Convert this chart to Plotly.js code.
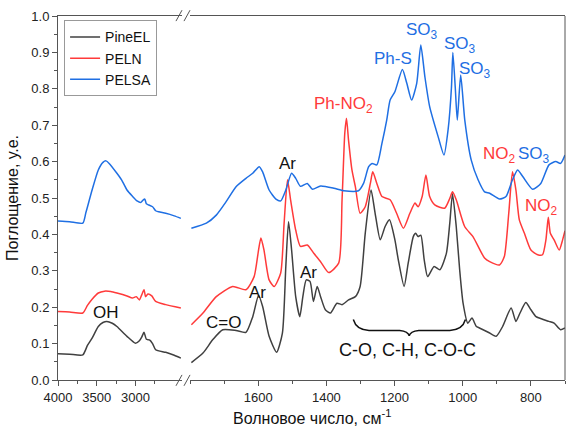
<!DOCTYPE html>
<html><head><meta charset="utf-8">
<script src="https://cdn.plot.ly/plotly-3.0.1.min.js"></script>
<style>html,body{margin:0;padding:0;background:#fff}#chart{width:566px;height:430px}</style>
</head><body><div id="chart"></div>
<script>
// ---- Series names / colours ----
const seriesNames = ['PineEL', 'PELN', 'PELSA'];
const seriesColors = ['#404040', '#ff3a3a', '#1f6fe3'];

// ---- High-wavenumber segment (4000–2400 cm-1) ----
const pineElHighWn = [4000, 3850, 3680, 3620, 3560, 3480, 3420, 3370, 3300, 3240, 3110, 3000, 2950, 2920, 2890, 2860, 2820, 2780, 2740, 2610, 2500, 2415];
const pineElHigh   = [0.072, 0.071, 0.069, 0.095, 0.115, 0.147, 0.158, 0.161, 0.156, 0.147, 0.120, 0.101, 0.108, 0.118, 0.131, 0.112, 0.110, 0.100, 0.083, 0.076, 0.068, 0.060];

const pelnHighWn = [4000, 3850, 3680, 3620, 3560, 3480, 3400, 3320, 3240, 3110, 3040, 2990, 2950, 2920, 2890, 2870, 2840, 2790, 2740, 2610, 2415];
const pelnHigh   = [0.188, 0.187, 0.184, 0.205, 0.222, 0.239, 0.244, 0.243, 0.239, 0.231, 0.225, 0.229, 0.220, 0.234, 0.248, 0.229, 0.236, 0.231, 0.216, 0.207, 0.198];

const pelsaHighWn = [4000, 3850, 3680, 3640, 3560, 3480, 3420, 3380, 3340, 3240, 3180, 3110, 3040, 2980, 2930, 2900, 2880, 2860, 2840, 2780, 2740, 2700, 2610, 2500, 2415];
const pelsaHigh   = [0.437, 0.435, 0.431, 0.460, 0.522, 0.577, 0.598, 0.602, 0.595, 0.568, 0.550, 0.522, 0.505, 0.492, 0.488, 0.495, 0.497, 0.484, 0.482, 0.476, 0.465, 0.462, 0.458, 0.451, 0.444];

// ---- Fingerprint segment (1800–700 cm-1) ----
const pineElLowWn = [1796, 1762, 1733, 1704, 1665, 1636, 1616, 1599, 1587, 1568, 1546, 1529, 1519, 1511, 1502, 1490, 1478, 1469, 1459, 1448, 1438, 1427, 1417, 1403, 1388, 1369, 1354, 1335, 1315, 1301, 1286, 1269, 1257, 1242, 1228, 1215, 1199, 1189, 1172, 1160, 1145, 1138, 1131, 1123, 1113, 1103, 1084, 1067, 1048, 1038, 1030, 1019, 1009, 999, 985, 973, 960, 951, 921, 902, 883, 858, 844, 832, 815, 800, 785, 766, 747, 732, 713, 700];
const pineElLow   = [0.048, 0.074, 0.111, 0.138, 0.136, 0.131, 0.174, 0.232, 0.202, 0.120, 0.076, 0.129, 0.312, 0.435, 0.357, 0.229, 0.174, 0.229, 0.275, 0.271, 0.216, 0.257, 0.229, 0.193, 0.184, 0.211, 0.207, 0.220, 0.229, 0.257, 0.403, 0.522, 0.458, 0.385, 0.421, 0.440, 0.385, 0.330, 0.257, 0.321, 0.394, 0.403, 0.394, 0.398, 0.330, 0.284, 0.312, 0.303, 0.348, 0.431, 0.512, 0.421, 0.303, 0.211, 0.156, 0.170, 0.147, 0.143, 0.129, 0.120, 0.147, 0.198, 0.161, 0.184, 0.213, 0.193, 0.174, 0.167, 0.161, 0.156, 0.138, 0.143];

const pelnLowWn = [1796, 1762, 1723, 1675, 1636, 1612, 1599, 1592, 1583, 1568, 1553, 1534, 1524, 1514, 1505, 1490, 1476, 1456, 1437, 1417, 1393, 1364, 1354, 1346, 1341, 1335, 1325, 1315, 1301, 1286, 1271, 1264, 1252, 1237, 1213, 1194, 1174, 1155, 1140, 1131, 1119, 1108, 1097, 1082, 1053, 1038, 1030, 1019, 994, 970, 936, 921, 892, 878, 865, 854, 844, 834, 819, 800, 780, 766, 756, 749, 743, 732, 717, 707, 700];
const pelnLow   = [0.152, 0.184, 0.229, 0.257, 0.248, 0.284, 0.357, 0.390, 0.357, 0.275, 0.257, 0.294, 0.431, 0.550, 0.495, 0.412, 0.367, 0.371, 0.348, 0.325, 0.295, 0.321, 0.495, 0.678, 0.719, 0.659, 0.577, 0.531, 0.458, 0.476, 0.540, 0.572, 0.540, 0.504, 0.495, 0.458, 0.417, 0.458, 0.486, 0.476, 0.504, 0.563, 0.504, 0.481, 0.472, 0.499, 0.517, 0.495, 0.421, 0.394, 0.335, 0.325, 0.316, 0.339, 0.458, 0.572, 0.522, 0.440, 0.403, 0.357, 0.344, 0.344, 0.385, 0.447, 0.403, 0.385, 0.357, 0.385, 0.410];

const pelsaLowWn = [1796, 1752, 1723, 1694, 1665, 1636, 1616, 1597, 1587, 1568, 1548, 1534, 1519, 1502, 1490, 1476, 1456, 1441, 1417, 1378, 1349, 1306, 1291, 1276, 1266, 1252, 1237, 1223, 1213, 1199, 1177, 1164, 1150, 1135, 1123, 1111, 1097, 1072, 1055, 1043, 1033, 1029, 1022, 1016, 1006, 994, 975, 955, 936, 921, 892, 873, 854, 839, 824, 795, 771, 747, 727, 713, 700];
const pelsaLow   = [0.417, 0.431, 0.453, 0.490, 0.531, 0.554, 0.568, 0.586, 0.572, 0.522, 0.497, 0.492, 0.522, 0.568, 0.554, 0.532, 0.540, 0.524, 0.533, 0.527, 0.520, 0.520, 0.540, 0.586, 0.595, 0.591, 0.650, 0.714, 0.769, 0.792, 0.853, 0.815, 0.769, 0.815, 0.920, 0.833, 0.751, 0.668, 0.618, 0.687, 0.805, 0.900, 0.805, 0.714, 0.838, 0.714, 0.604, 0.550, 0.517, 0.513, 0.497, 0.504, 0.550, 0.577, 0.559, 0.524, 0.540, 0.591, 0.600, 0.595, 0.618];

// ---- Axis ticks ----
const highTickVals = [4000, 3500, 3000];
const highMinorVals = [3750, 3250, 2750];
const lowTickVals = [1600, 1400, 1200, 1000, 800];

// ---- Band labels ----
const bandLabels = [
  {text: 'OH', axis: 'x', wn: 3377, y: 0.185, c: 0, s: 17},
  {text: 'C=O', axis: 'x2', wn: 1701, y: 0.157, c: 0, s: 17},
  {text: 'Ar', axis: 'x2', wn: 1601, y: 0.240, c: 0, s: 17},
  {text: 'Ar', axis: 'x2', wn: 1513, y: 0.594, c: 0, s: 17},
  {text: 'Ar', axis: 'x2', wn: 1452, y: 0.296, c: 0, s: 17},
  {text: 'Ph-NO<sub>2</sub>', axis: 'x2', wn: 1350, y: 0.755, c: 1, s: 17},
  {text: 'Ph-S', axis: 'x2', wn: 1204, y: 0.884, c: 2, s: 17},
  {text: 'SO<sub>3</sub>', axis: 'x2', wn: 1120, y: 0.958, c: 2, s: 17},
  {text: 'SO<sub>3</sub>', axis: 'x2', wn: 1009, y: 0.920, c: 2, s: 17},
  {text: 'SO<sub>3</sub>', axis: 'x2', wn: 965, y: 0.852, c: 2, s: 17},
  {text: 'NO<sub>2</sub>', axis: 'x2', wn: 892, y: 0.619, c: 1, s: 17},
  {text: 'SO<sub>3</sub>', axis: 'x2', wn: 790, y: 0.619, c: 2, s: 17},
  {text: 'NO<sub>2</sub>', axis: 'x2', wn: 770, y: 0.476, c: 1, s: 17},
  {text: 'C-O, C-H, C-O-C', axis: 'x2', wn: 1161, y: 0.083, c: 0, s: 18}
];

const FONT = 'Liberation Sans, Arial, sans-serif';
const AXC = '#555';
const highSets = [[pineElHighWn, pineElHigh], [pelnHighWn, pelnHigh], [pelsaHighWn, pelsaHigh]];
const lowSets = [[pineElLowWn, pineElLow], [pelnLowWn, pelnLow], [pelsaLowWn, pelsaLow]];

const traces = [];
seriesNames.forEach((name, i) => {
  traces.push({x: highSets[i][0], y: highSets[i][1], xaxis: 'x', yaxis: 'y', mode: 'lines', name: name,
    legendgroup: name, showlegend: true, line: {color: seriesColors[i], width: 1.5, shape: 'spline', smoothing: 0.6}});
});
seriesNames.forEach((name, i) => {
  traces.push({x: lowSets[i][0], y: lowSets[i][1], xaxis: 'x2', yaxis: 'y', mode: 'lines', name: name,
    legendgroup: name, showlegend: false, line: {color: seriesColors[i], width: 1.5, shape: 'spline', smoothing: 0.6}});
});

const axisCommon = {showline: true, linecolor: AXC, linewidth: 1, ticks: 'outside',
  ticklen: 5, tickcolor: AXC, showgrid: false, zeroline: false,
  tickfont: {family: FONT, size: 13, color: '#222'}};

const annotations = bandLabels.map(b => ({
  text: b.text, xref: b.axis, yref: 'y', x: b.wn, y: b.y, showarrow: false,
  font: {family: FONT, size: b.s, color: b.c === 0 ? '#111' : seriesColors[b.c]},
  xanchor: 'center', yanchor: 'middle'
}));
annotations.push({text: 'Волновое число, см<sup>-1</sup>', xref: 'paper', yref: 'paper', x: 0.5, y: -0.102,
  xanchor: 'center', yanchor: 'middle', showarrow: false, font: {family: FONT, size: 16, color: '#111'}});

const shapes = [];
[[-0.016, 0.014], [0.986, 1.016]].forEach(([y0, y1]) => {
  shapes.push({type: 'line', xref: 'paper', yref: 'paper', x0: 0.2327, y0: y0, x1: 0.2446, y1: y1, line: {color: AXC, width: 1}});
  shapes.push({type: 'line', xref: 'paper', yref: 'paper', x0: 0.2485, y0: y0, x1: 0.2604, y1: y1, line: {color: AXC, width: 1}});
});
// right frame edge
shapes.push({type: 'line', xref: 'paper', yref: 'paper', x0: 1, x1: 1, y0: 0, y1: 1, line: {color: AXC, width: 1}});
// brace under the C-O / C-H / C-O-C region
shapes.push({type: 'path', xref: 'x2', yref: 'y',
  path: 'M 1321,0.166 Q 1312,0.137 1275,0.136 L 1185,0.136 Q 1160,0.134 1157,0.121 Q 1154,0.134 1129,0.136 L 1038,0.136 Q 1001,0.137 992,0.166',
  line: {color: '#111', width: 1.5}});

const layout = {
  width: 566, height: 430,
  margin: {l: 58, r: 1, t: 16, b: 50},
  paper_bgcolor: '#fff', plot_bgcolor: '#fff',
  showlegend: true,
  legend: {x: 0.012, y: 0.988, xanchor: 'left', yanchor: 'top', bordercolor: '#999', borderwidth: 1,
    bgcolor: '#fff', font: {family: FONT, size: 14, color: '#111'}, tracegroupgap: 0},
  xaxis: Object.assign({}, axisCommon, {mirror: true, domain: [0, 0.2446], range: [4000, 2400], tickvals: highTickVals,
    minor: {tickvals: highMinorVals, ticks: 'outside', ticklen: 3, tickcolor: AXC}}),
  xaxis2: Object.assign({}, axisCommon, {mirror: true, domain: [0.2604, 1], range: [1800, 700], anchor: 'y', tickvals: lowTickVals,
    minor: {dtick: 100, tick0: 0, ticks: 'outside', ticklen: 3, tickcolor: AXC}}),
  yaxis: Object.assign({}, axisCommon, {mirror: false, anchor: 'x', range: [0, 1], dtick: 0.1, tickformat: '.1f',
    minor: {dtick: 0.05, ticks: 'outside', ticklen: 3, tickcolor: AXC},
    title: {text: 'Поглощение, у.е.', font: {family: FONT, size: 16, color: '#111'}, standoff: 8}}),
  annotations: annotations,
  shapes: shapes
};

Plotly.newPlot('chart', traces, layout, {displayModeBar: false, staticPlot: true});
</script>
</body></html>
